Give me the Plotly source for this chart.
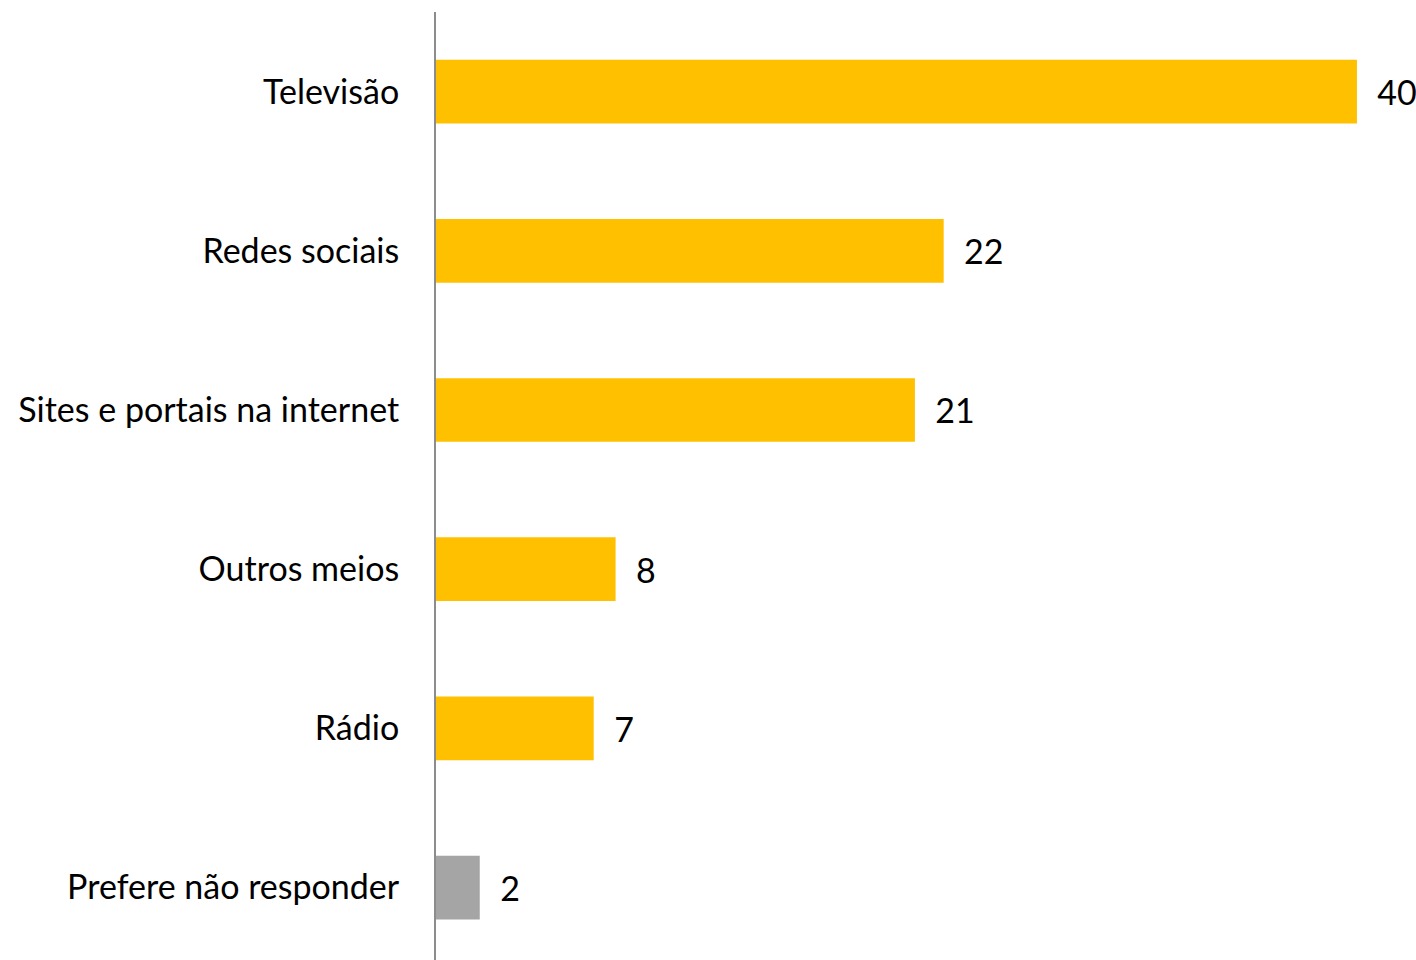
import plotly.graph_objects as go

categories = ["Televisão", "Redes sociais", "Sites e portais na internet",
              "Outros meios", "Rádio", "Prefere não responder"]
values = [40, 22.05, 20.8, 7.8, 6.85, 1.9]
labels = ["40", "22", "21", "8", "7", "2"]
colors = ["#FFC000", "#FFC000", "#FFC000", "#FFC000", "#FFC000", "#A5A5A5"]

FONT = "Lato"

fig = go.Figure(go.Bar(
    x=values,
    y=categories,
    orientation="h",
    marker=dict(color=colors, line=dict(width=0)),
    width=0.4,
    text=["  " + l for l in labels],
    textposition="outside",
    textfont=dict(family=FONT, size=34, color="#000000"),
    cliponaxis=False,
))

fig.update_layout(
    width=1416, height=960,
    margin=dict(l=436, r=13, t=12, b=0),
    paper_bgcolor="white", plot_bgcolor="white",
    showlegend=False,
    bargap=0.6,
    xaxis=dict(range=[0, 42], visible=False, showgrid=False, zeroline=False),
    yaxis=dict(
        categoryorder="array", categoryarray=categories,
        range=[5.455, -0.5],
        showline=True, linecolor="#8C8C8C", linewidth=2,
        ticks="", ticklabelstandoff=28,
        tickfont=dict(family=FONT, size=34, color="#000000"),
        showgrid=False, zeroline=False,
    ),
)

fig.write_html(
    "out.html",
    config={"displayModeBar": False},
    post_script="document.body.style.margin='0';document.body.style.overflow='hidden';",
)
